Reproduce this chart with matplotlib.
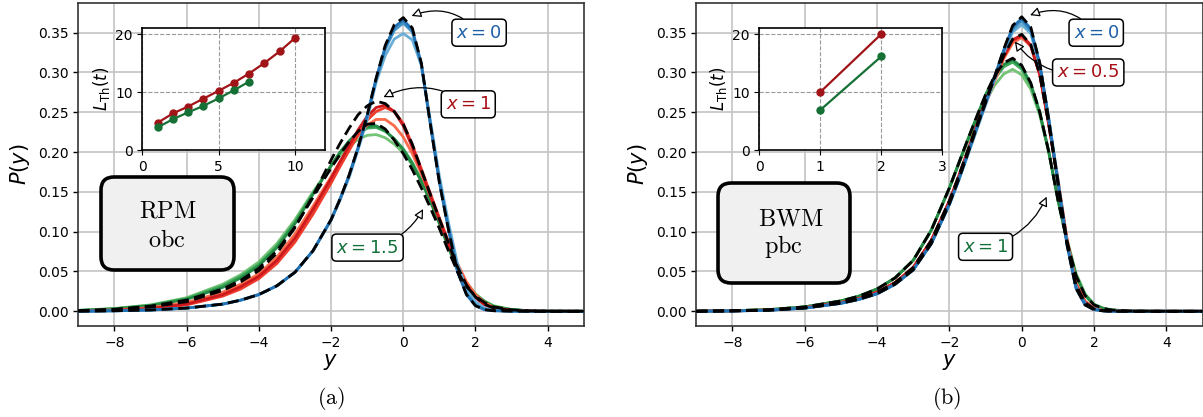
import matplotlib
matplotlib.use("Agg")
import matplotlib.pyplot as plt
from matplotlib.patches import FancyBboxPatch

# ---------------- data ----------------
Y = [-9, -8, -7, -6, -5, -4.5, -4, -3.5, -3, -2.5, -2, -1.75, -1.5, -1.25, -1, -0.75,
     -0.5, -0.25, 0, 0.25, 0.5, 0.75, 1, 1.25, 1.5, 1.75, 2, 2.25, 2.5, 3, 3.5, 4, 5]

# panel (a) RPM obc
a_theory_x0 = [0.0, 0.0006, 0.0016, 0.004, 0.009, 0.014, 0.021, 0.032, 0.049, 0.076, 0.115, 0.141, 0.171, 0.206, 0.246, 0.293,
               0.334, 0.360, 0.369, 0.356, 0.312, 0.235, 0.162, 0.103, 0.050, 0.021, 0.007, 0.002, 0.0007, 0.0001, 0, 0, 0]
a_blue_dark = [0.0, 0.0006, 0.0016, 0.004, 0.009, 0.014, 0.021, 0.032, 0.049, 0.076, 0.115, 0.141, 0.171, 0.206, 0.246, 0.293,
               0.332, 0.357, 0.366, 0.354, 0.311, 0.235, 0.162, 0.103, 0.050, 0.021, 0.007, 0.002, 0.0007, 0.0001, 0, 0, 0]
a_blue_mid = [0.0, 0.0006, 0.0016, 0.004, 0.009, 0.014, 0.021, 0.032, 0.049, 0.076, 0.115, 0.141, 0.170, 0.205, 0.245, 0.291,
              0.329, 0.353, 0.362, 0.351, 0.310, 0.236, 0.164, 0.106, 0.053, 0.023, 0.008, 0.0025, 0.0008, 0.0001, 0, 0, 0]
a_blue_light = [0.0, 0.0006, 0.0016, 0.004, 0.009, 0.014, 0.021, 0.032, 0.049, 0.076, 0.114, 0.140, 0.168, 0.203, 0.241, 0.288,
                0.321, 0.342, 0.349, 0.341, 0.309, 0.240, 0.170, 0.112, 0.060, 0.029, 0.012, 0.004, 0.0015, 0.0003, 0, 0, 0]

a_theory_x1 = [0.0006, 0.002, 0.0055, 0.012, 0.026, 0.037, 0.051, 0.073, 0.105, 0.145, 0.190, 0.211, 0.230, 0.247, 0.258, 0.264,
               0.261, 0.251, 0.235, 0.210, 0.178, 0.147, 0.116, 0.086, 0.056, 0.033, 0.018, 0.009, 0.004, 0.001, 0.0003, 0, 0]
a_red_dark = [0.0003, 0.0012, 0.0035, 0.009, 0.021, 0.031, 0.044, 0.064, 0.092, 0.128, 0.167, 0.188, 0.208, 0.228, 0.245, 0.256,
              0.259, 0.251, 0.233, 0.206, 0.176, 0.145, 0.115, 0.085, 0.055, 0.032, 0.017, 0.008, 0.004, 0.001, 0.0002, 0, 0]
a_red_mid = [0.0002, 0.001, 0.003, 0.008, 0.019, 0.028, 0.041, 0.060, 0.087, 0.122, 0.161, 0.182, 0.202, 0.222, 0.240, 0.251,
             0.256, 0.251, 0.236, 0.209, 0.179, 0.148, 0.117, 0.087, 0.057, 0.034, 0.018, 0.009, 0.004, 0.001, 0.0002, 0, 0]
a_red_light = [0.0005, 0.0017, 0.0045, 0.011, 0.024, 0.034, 0.047, 0.068, 0.097, 0.132, 0.169, 0.188, 0.205, 0.221, 0.234, 0.241,
               0.241, 0.233, 0.219, 0.198, 0.173, 0.145, 0.117, 0.088, 0.060, 0.037, 0.021, 0.011, 0.005, 0.0012, 0.0003, 0, 0]

a_theory_x15 = [0.0008, 0.0025, 0.0065, 0.014, 0.028, 0.039, 0.054, 0.076, 0.106, 0.143, 0.180, 0.197, 0.213, 0.226, 0.235, 0.236,
                0.229, 0.215, 0.198, 0.178, 0.155, 0.130, 0.104, 0.076, 0.050, 0.031, 0.019, 0.011, 0.0055, 0.0018, 0.0005, 0.0001, 0]
a_green_dark = [0.001, 0.003, 0.007, 0.015, 0.030, 0.042, 0.057, 0.080, 0.110, 0.147, 0.183, 0.200, 0.214, 0.225, 0.232, 0.233,
                0.227, 0.216, 0.203, 0.185, 0.163, 0.138, 0.110, 0.080, 0.052, 0.033, 0.020, 0.012, 0.006, 0.002, 0.0006, 0.0002, 0]
a_green_mid = [0.001, 0.0032, 0.0075, 0.016, 0.032, 0.044, 0.059, 0.082, 0.112, 0.148, 0.183, 0.199, 0.212, 0.223, 0.230, 0.231,
               0.226, 0.217, 0.204, 0.187, 0.165, 0.140, 0.112, 0.082, 0.054, 0.034, 0.021, 0.012, 0.006, 0.002, 0.0006, 0.0002, 0]
a_green_light = [0.0012, 0.0035, 0.008, 0.017, 0.034, 0.046, 0.062, 0.085, 0.115, 0.150, 0.182, 0.196, 0.207, 0.216, 0.221, 0.222,
                 0.218, 0.210, 0.199, 0.184, 0.164, 0.140, 0.113, 0.084, 0.056, 0.036, 0.022, 0.013, 0.007, 0.0022, 0.0007, 0.0002, 0]

# panel (b) BWM pbc
b_theory_x0 = [0, 0.0004, 0.0013, 0.004, 0.010, 0.015, 0.022, 0.034, 0.052, 0.085, 0.135, 0.165, 0.197, 0.230, 0.262, 0.295,
               0.329, 0.359, 0.370, 0.357, 0.312, 0.240, 0.162, 0.084, 0.029, 0.008, 0.002, 0.0005, 0.0001, 0, 0, 0, 0]
b_blue_dark = [0, 0.0004, 0.0013, 0.004, 0.010, 0.015, 0.022, 0.034, 0.052, 0.085, 0.135, 0.165, 0.197, 0.230, 0.262, 0.295,
               0.328, 0.357, 0.368, 0.355, 0.311, 0.240, 0.162, 0.084, 0.029, 0.008, 0.002, 0.0005, 0.0001, 0, 0, 0, 0]
b_blue_mid = [0, 0.0004, 0.0013, 0.004, 0.010, 0.015, 0.022, 0.034, 0.052, 0.085, 0.134, 0.164, 0.196, 0.229, 0.261, 0.294,
              0.326, 0.354, 0.365, 0.352, 0.310, 0.241, 0.164, 0.086, 0.030, 0.009, 0.0025, 0.0006, 0.0001, 0, 0, 0, 0]
b_blue_light = [0, 0.0004, 0.0013, 0.004, 0.010, 0.015, 0.022, 0.034, 0.052, 0.085, 0.134, 0.163, 0.195, 0.227, 0.259, 0.291,
                0.324, 0.351, 0.360, 0.349, 0.309, 0.242, 0.166, 0.088, 0.032, 0.010, 0.003, 0.0008, 0.0002, 0, 0, 0, 0]

b_theory_x05 = [0.0001, 0.0005, 0.0015, 0.0045, 0.011, 0.016, 0.024, 0.036, 0.055, 0.089, 0.139, 0.169, 0.201, 0.233, 0.264, 0.293,
                0.321, 0.342, 0.348, 0.335, 0.297, 0.234, 0.163, 0.088, 0.033, 0.011, 0.003, 0.0008, 0.0002, 0, 0, 0, 0]
b_red_dark = [0.0001, 0.0005, 0.0015, 0.0045, 0.011, 0.016, 0.024, 0.036, 0.055, 0.089, 0.139, 0.169, 0.201, 0.233, 0.264, 0.293,
              0.320, 0.341, 0.347, 0.334, 0.297, 0.234, 0.163, 0.088, 0.033, 0.011, 0.003, 0.0008, 0.0002, 0, 0, 0, 0]
b_red_mid = [0.0001, 0.0005, 0.0015, 0.0045, 0.011, 0.016, 0.024, 0.036, 0.055, 0.089, 0.138, 0.168, 0.200, 0.232, 0.263, 0.292,
             0.319, 0.340, 0.346, 0.334, 0.298, 0.235, 0.165, 0.090, 0.034, 0.012, 0.0035, 0.001, 0.0002, 0, 0, 0, 0]
b_red_light = [0.0001, 0.0005, 0.0015, 0.0045, 0.011, 0.016, 0.024, 0.036, 0.055, 0.089, 0.138, 0.167, 0.199, 0.230, 0.260, 0.289,
               0.317, 0.337, 0.344, 0.333, 0.297, 0.236, 0.167, 0.092, 0.036, 0.013, 0.004, 0.001, 0.0003, 0, 0, 0, 0]

b_theory_x1 = [0.0002, 0.0007, 0.002, 0.0055, 0.013, 0.019, 0.028, 0.042, 0.064, 0.102, 0.155, 0.185, 0.215, 0.244, 0.272, 0.296,
               0.312, 0.318, 0.309, 0.287, 0.250, 0.200, 0.140, 0.088, 0.045, 0.020, 0.008, 0.0035, 0.0015, 0.0003, 0.0001, 0, 0]
b_green_dark = [0.0002, 0.0007, 0.002, 0.0055, 0.013, 0.019, 0.028, 0.042, 0.064, 0.102, 0.155, 0.185, 0.215, 0.244, 0.272, 0.295,
                0.310, 0.316, 0.307, 0.286, 0.250, 0.200, 0.140, 0.088, 0.045, 0.020, 0.008, 0.0035, 0.0015, 0.0003, 0.0001, 0, 0]
b_green_mid = [0.0002, 0.0007, 0.002, 0.0055, 0.013, 0.019, 0.028, 0.042, 0.064, 0.102, 0.155, 0.185, 0.214, 0.242, 0.269, 0.292,
               0.307, 0.313, 0.304, 0.284, 0.249, 0.200, 0.141, 0.089, 0.046, 0.021, 0.0085, 0.0037, 0.0016, 0.0003, 0.0001, 0, 0]
b_green_light = [0.0002, 0.0007, 0.002, 0.0055, 0.013, 0.019, 0.028, 0.042, 0.064, 0.102, 0.155, 0.184, 0.212, 0.238, 0.263, 0.284,
                 0.298, 0.304, 0.297, 0.279, 0.246, 0.199, 0.142, 0.091, 0.048, 0.022, 0.009, 0.004, 0.0017, 0.0004, 0.0001, 0, 0]

# insets: L_Th(t)
a_inset_t_red = [1, 2, 3, 4, 5, 6, 7, 8, 9, 10]
a_inset_L_red = [4.7, 6.3, 7.5, 8.85, 10.2, 11.6, 13.2, 15.0, 17.0, 19.3]
a_inset_t_green = [1, 2, 3, 4, 5, 6, 7]
a_inset_L_green = [3.9, 5.3, 6.5, 7.6, 8.9, 10.3, 11.8]

b_inset_t_red = [1, 2]
b_inset_L_red = [10.0, 20.0]
b_inset_t_green = [1, 2]
b_inset_L_green = [6.9, 16.15]

yticks_main = [0.00, 0.05, 0.10, 0.15, 0.20, 0.25, 0.30, 0.35]
xticks_main = [-8, -6, -4, -2, 0, 2, 4]

# ---------------- style ----------------
BLUES = ['#6baed6', '#4292c6', '#2171b5']
REDS = ['#fb6a4a', '#ef3b2c', '#cb181d']
GREENS = ['#74c476', '#41ab5d', '#238b45']
TXT_BLUE = '#1f5fa8'
TXT_RED = '#a50f15'
TXT_GREEN = '#12703a'
INS_RED = '#a01418'
INS_GREEN = '#157035'

W, H = 1203, 417
fig = plt.figure(figsize=(W / 100, H / 100), dpi=100)


def fx(px):
    return px / W


def fy(py):
    return 1 - py / H


def main_axes(left_px, right_px):
    ax = fig.add_axes([fx(left_px), fy(326), (right_px - left_px) / W, 323 / H])
    ax.set_xlim(-9, 5)
    ax.set_ylim(-0.0185, 0.3873)
    ax.set_xticks(xticks_main)
    ax.set_yticks(yticks_main)
    ax.set_xticklabels([f'\u2212{abs(v)}' if v < 0 else f'{v}' for v in xticks_main])
    ax.set_yticklabels([f'{v:.2f}' for v in yticks_main])
    ax.tick_params(labelsize=10, width=1.0, length=3.5)
    ax.grid(True, color='#c4c4c4', lw=1.2)
    ax.set_axisbelow(True)
    for s in ax.spines.values():
        s.set_linewidth(1.2)
        s.set_color('#333333')
    ax.set_xlabel(r'$y$', fontsize=15, labelpad=2)
    ax.set_ylabel(r'$P(y)$', fontsize=15, labelpad=4)
    return ax


def draw_family(ax, curves, colors, theory):
    for c, col in zip(curves, colors):
        ax.plot(Y, c, color=col, lw=2.0, zorder=3, solid_joinstyle='round')
    ax.plot(Y, theory, color='black', lw=2.0, ls=(0, (4, 2)), zorder=4)


def label(ax, text, color, xy, xytext, rad):
    ax.annotate(text, xy=xy, xytext=xytext, ha='center', va='center', color=color, fontsize=13, zorder=6,
                bbox=dict(boxstyle='round,pad=0.25', fc='white', ec='black', lw=1.1),
                arrowprops=dict(arrowstyle='-|>', fc='white', ec='black', lw=0.9, mutation_scale=14,
                                shrinkA=0, shrinkB=0, connectionstyle=f'arc3,rad={rad}'))


def model_box(ax, x0, x1, y0, y1, top, bottom, tpos, bpos):
    axw = ax.get_position().width * W
    axh = ax.get_position().height * H
    box = FancyBboxPatch((x0, y0), x1 - x0, y1 - y0, transform=ax.transAxes,
                         boxstyle='round,pad=0,rounding_size=0.026', mutation_aspect=axw / axh,
                         fc='#f0f0f0', ec='black', lw=2.6, zorder=5)
    ax.add_patch(box)
    ax.text(tpos[0], tpos[1], top, transform=ax.transAxes, ha='center', va='center', fontsize=17.5,
            math_fontfamily='cm', zorder=6)
    ax.text(bpos[0], bpos[1], bottom, transform=ax.transAxes, ha='center', va='center', fontsize=17.5,
            math_fontfamily='cm', zorder=6)


def inset(left_px, xlim, xticks, tr, Lr, tg, Lg):
    ins = fig.add_axes([fx(left_px), fy(150), 183 / W, 121.7 / H])
    ins.plot(tr, Lr, color=INS_RED, marker='o', ms=5, lw=1.6, zorder=3)
    ins.plot(tg, Lg, color=INS_GREEN, marker='o', ms=5, lw=1.6, zorder=3)
    ins.set_xlim(*xlim)
    ins.set_ylim(0, 21)
    ins.set_xticks(xticks)
    ins.set_yticks([0, 10, 20])
    ins.grid(True, ls='--', color='#999999', lw=0.8)
    ins.tick_params(labelsize=10, length=3.5)
    for s in ins.spines.values():
        s.set_linewidth(1.2)
    ins.set_ylabel(r'$L_{\mathrm{Th}}(t)$', fontsize=12, labelpad=2)
    ins.set_zorder(10)
    return ins


# ---------------- panel (a) ----------------
axA = main_axes(78.3, 583.8)
draw_family(axA, [a_green_light, a_green_mid, a_green_dark], GREENS, a_theory_x15)
draw_family(axA, [a_red_light, a_red_mid, a_red_dark], REDS, a_theory_x1)
draw_family(axA, [a_blue_light, a_blue_mid, a_blue_dark], BLUES, a_theory_x0)
label(axA, r'$x = 0$', TXT_BLUE, (0.23, 0.371), (2.10, 0.350), 0.35)
label(axA, r'$x = 1$', TXT_RED, (-0.55, 0.269), (1.80, 0.260), 0.3)
label(axA, r'$x = 1.5$', TXT_GREEN, (0.55, 0.1285), (-0.99, 0.080), 0.25)
model_box(axA, 0.0449, 0.308, 0.1734, 0.4613, r'$\mathrm{RPM}$', r'$\mathrm{obc}$', (0.178, 0.359), (0.175, 0.266))
inset(142.3, (0, 12), [0, 5, 10], a_inset_t_red, a_inset_L_red, a_inset_t_green, a_inset_L_green)

# ---------------- panel (b) ----------------
axB = main_axes(696.3, 1202.5)
draw_family(axB, [b_green_light, b_green_mid, b_green_dark], GREENS, b_theory_x1)
draw_family(axB, [b_red_light, b_red_mid, b_red_dark], REDS, b_theory_x05)
draw_family(axB, [b_blue_light, b_blue_mid, b_blue_dark], BLUES, b_theory_x0)
label(axB, r'$x = 0$', TXT_BLUE, (0.23, 0.372), (2.06, 0.350), 0.35)
label(axB, r'$x = 0.5$', TXT_RED, (-0.19, 0.339), (1.84, 0.300), -0.3)
label(axB, r'$x = 1$', TXT_GREEN, (0.69, 0.144), (-1.0, 0.081), 0.25)
model_box(axB, 0.0429, 0.3036, 0.1331, 0.4427, r'$\mathrm{BWM}$', r'$\mathrm{pbc}$', (0.186, 0.333), (0.173, 0.2455))
inset(759.3, (0, 3), [0, 1, 2, 3], b_inset_t_red, b_inset_L_red, b_inset_t_green, b_inset_L_green)

# captions
fig.text(fx(331), fy(398), r'$(\mathrm{a})$', ha='center', va='center', fontsize=16, math_fontfamily='cm')
fig.text(fx(947), fy(398), r'$(\mathrm{b})$', ha='center', va='center', fontsize=16, math_fontfamily='cm')

fig.savefig('out.png', dpi=100)
